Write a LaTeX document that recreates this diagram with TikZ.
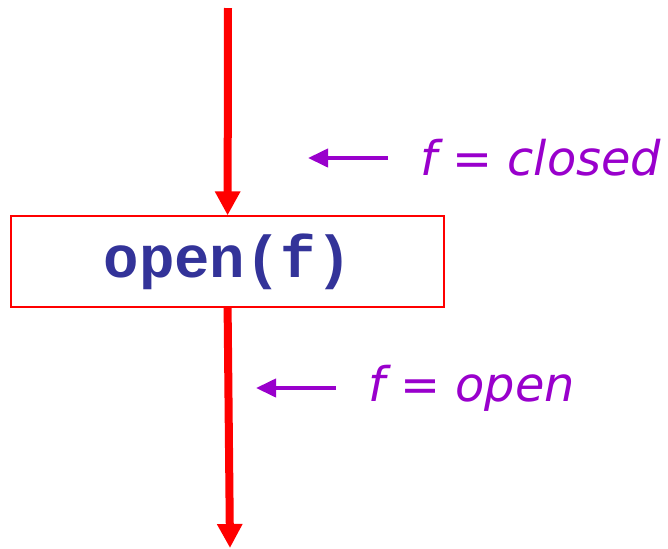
\documentclass[tikz,border=0pt]{standalone}
\usepackage{fontspec}
\usetikzlibrary{arrows.meta}
\newfontfamily\codefont{Liberation Mono}
\newfontfamily\notefont{DejaVu Sans}
\definecolor{flowred}{RGB}{255,0,0}
\definecolor{codeblue}{RGB}{51,51,153}
\definecolor{notepurple}{RGB}{153,0,204}
\begin{document}
\begin{tikzpicture}[
    stmt/.style={rectangle, draw=flowred, line width=1pt, minimum width=10.825cm, minimum height=2.275cm, text=codeblue, font=\codefont\bfseries\fontsize{42}{48}\selectfont},
    flow/.style={-{Triangle[length=0.6cm, width=0.6cm]}, draw=flowred, line width=0.2cm},
    note/.style={anchor=west, inner sep=0pt, text=notepurple, font=\notefont\itshape\fontsize{34}{40}\selectfont},
    ptr/.style={-{Triangle[length=0.5cm, width=0.45cm]}, draw=notepurple, line width=0.1cm, shorten <=0.8cm}
]
\useasboundingbox (0,0) rectangle (16.7,-13.7);

% Statement
\node[stmt] (open) at (5.69,-6.54) {open(f)};

% Control flow
\coordinate (entry) at (5.7,-0.2);
\coordinate (exit) at (5.75,-13.7);
\draw[flow] (entry) -- (open.north);
\draw[flow] (open.south) -- (exit);

% State notes
\node[note] (closed) at (10.5,-3.95) {f = closed};
\node[note] (opened) at (9.2,-9.7) {f = open};
\coordinate (closedtip) at (7.7,-3.95);
\coordinate (openedtip) at (6.4,-9.7);
\draw[ptr] (closed.west) -- (closedtip);
\draw[ptr] (opened.west) -- (openedtip);

\end{tikzpicture}
\end{document}
